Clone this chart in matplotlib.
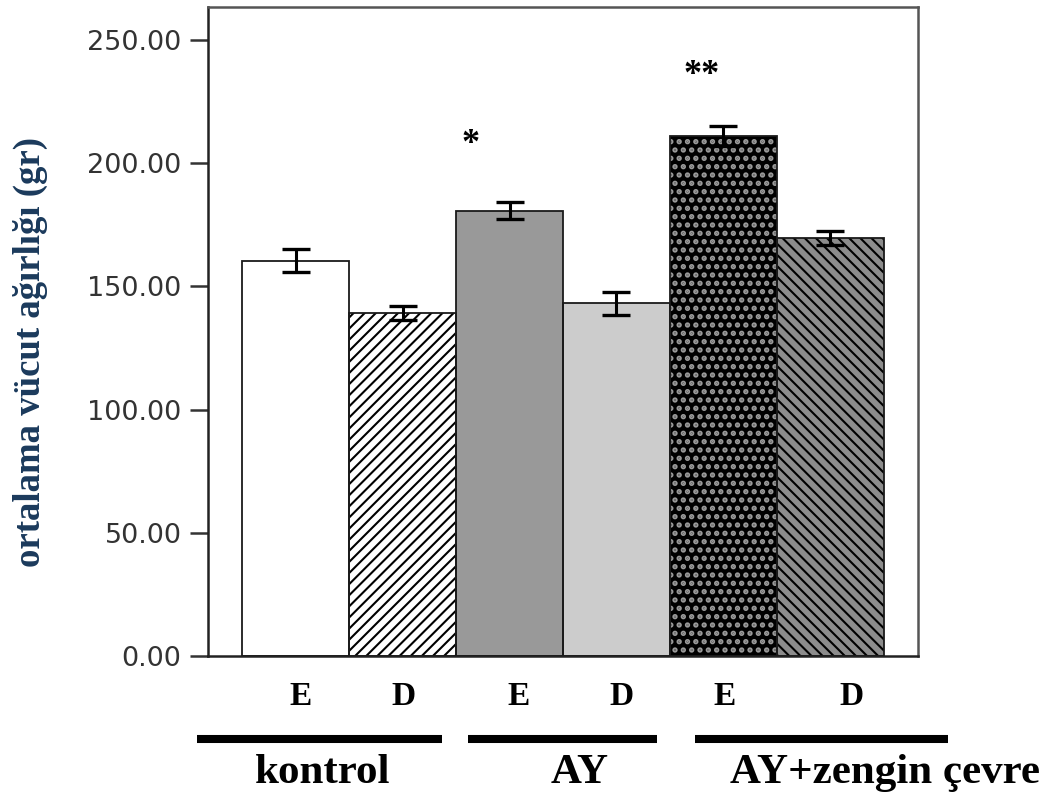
import matplotlib
matplotlib.use("Agg")
import matplotlib.pyplot as plt
from matplotlib.lines import Line2D

# Mean body weight (g) per subgroup, with error bar half-lengths
bar_labels = ["E", "D", "E", "D", "E", "D"]
means = [160.5, 139.2, 180.8, 143.2, 211.0, 169.6]
errors = [4.6, 2.8, 3.6, 4.7, 4.0, 2.8]
group_names = ["kontrol", "AY", "AY+zengin çevre"]
sig_marks = ["", "", "*", "", "**", ""]
yticks = [0, 50, 100, 150, 200, 250]

face_colors = ["white", "white", "#999999", "#cccccc", "black", "#8c8c8c"]
hatch_colors = ["black", "black", "black", "black", "#9a9a9a", "black"]
hatches = [None, "///", None, None, "..", "\\\\\\"]
hatch_widths = [1.5, 1.5, 1.5, 1.5, 2.6, 1.5]

serif = "Liberation Serif"

fig = plt.figure(figsize=(10.55, 7.93), dpi=100)
ax = fig.add_axes([208 / 1055, 1 - 656 / 793, 710 / 1055, 649 / 793])

x = list(range(len(means)))
# fill + hatch layer
for xi, m, fc, hc, h, hw in zip(x, means, face_colors, hatch_colors, hatches,
                                hatch_widths):
    with plt.rc_context({"hatch.linewidth": hw}):
        ax.bar(xi, m, width=1.0, color=fc, edgecolor=hc, linewidth=0,
               hatch=h, zorder=2)
# outline layer
ax.bar(x, means, width=1.0, fill=False, edgecolor="#1a1a1a", linewidth=1.3,
       zorder=3)
ax.errorbar(x, means, yerr=errors, fmt="none", ecolor="black",
            elinewidth=2.2, capsize=10, capthick=2.4, zorder=4)

# significance marks
sig_offsets = [0, 0, -0.36, 0, -0.2, 0]
sig_gaps = [0, 0, 23, 0, 20.5, 0]
for xi, m, e, s, off, gap in zip(x, means, errors, sig_marks, sig_offsets,
                                 sig_gaps):
    if s:
        ax.text(xi + off, m + e + gap, s, ha="center", va="center",
                fontsize=26, fontweight="bold", family=serif, color="black",
                zorder=5)

ax.set_xlim(-0.818, 5.818)
ax.set_ylim(0, 263.4)
ax.set_yticks(yticks)
ax.set_yticklabels([f"{v:.2f}" for v in yticks], fontsize=19.5,
                   family="DejaVu Sans", color="#333333")
ax.tick_params(axis="y", length=13, width=1.8, color="#333333", pad=6)
ax.set_xticks([])
for side in ["left", "bottom"]:
    ax.spines[side].set_linewidth(1.8)
    ax.spines[side].set_color("#222222")
for side in ["top", "right"]:
    ax.spines[side].set_linewidth(1.8)
    ax.spines[side].set_color("#555555")

ax.set_ylabel("ortalama vücut ağırlığı (gr)", fontsize=26.5, fontweight="bold",
              family=serif, color="#1b3a5c")
ax.yaxis.label.set_va("center")
ax.yaxis.set_label_coords((30 - 208) / 710, (656 - 352) / 649)

# subgroup letters under each bar
label_offsets = [0.05, 0.01, 0.08, 0.05, 0.01, 0.2]
for xi, lab, off in zip(x, bar_labels, label_offsets):
    ax.text(xi + off, -16.5, lab, ha="center", va="center", fontsize=24,
            fontweight="bold", family=serif, color="black", clip_on=False)

# group underlines and names
group_lines = [(197, 442), (468, 657), (695, 948)]
group_label_x = [323, 580, 885]
ly = 1 - 739 / 793
for (x0, x1), name, gx in zip(group_lines, group_names, group_label_x):
    fig.add_artist(Line2D([x0 / 1055, x1 / 1055], [ly, ly], color="black",
                          linewidth=5.8, solid_capstyle="butt"))
    fig.text(gx / 1055, 1 - 773 / 793, name, ha="center", va="center",
             fontsize=31, fontweight="bold", family=serif, color="black")

fig.savefig("out.png", dpi=100)
